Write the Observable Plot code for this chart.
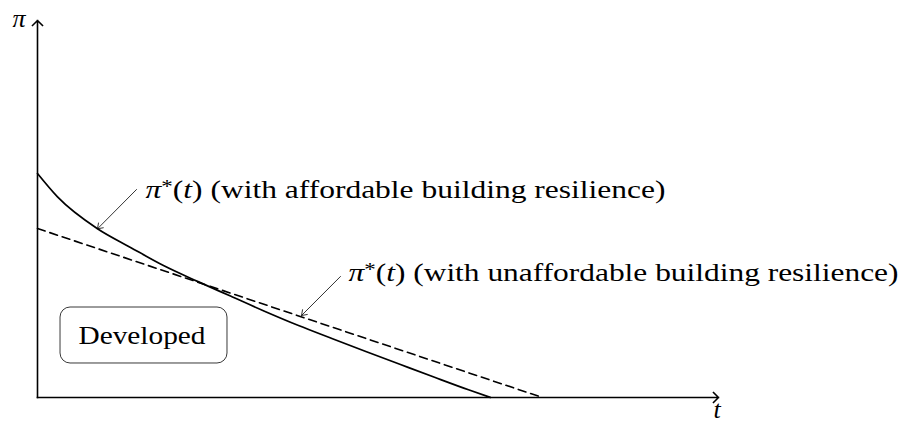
<!DOCTYPE html>
<html>
<head>
<meta charset="utf-8">
<script src="https://cdn.jsdelivr.net/npm/d3@7"></script>
<script src="https://cdn.jsdelivr.net/npm/@observablehq/plot@0.6"></script>
<style>
  html, body { margin: 0; padding: 0; background: #fff; }
  svg { display: block; }
  svg text { font-family: "Liberation Serif", "Times New Roman", serif; }
</style>
</head>
<body>
<div id="chart"></div>
<script>
// π*(t) with affordable building resilience (solid, convex)
const solidT  = [0, 0.294, 0.881, 1.366, 1.850, 2.349, 2.834, 3.333, 3.833, 4.332, 4.831, 5.330, 5.830, 6.329, 6.652];
const solidPi = [5.94, 5.32, 4.475, 3.98, 3.50, 3.08, 2.69, 2.29, 1.91, 1.56, 1.215, 0.875, 0.536, 0.204, 0];

// π*(t) with unaffordable building resilience (dashed, straight)
const dashedT  = [0, 7.415];
const dashedPi = [4.483, 0];

// annotation texts
const labelTexts = ["π*(t) (with affordable building resilience)", "π*(t) (with unaffordable building resilience)"];
const labelT  = [1.586, 4.567];
const labelPi = [5.305, 3.077];
// annotation arrows: from label to curve
const arrowFromT  = [1.454, 4.449];
const arrowFromPi = [5.517, 3.210];
const arrowToT    = [0.881, 3.877];
const arrowToPi   = [4.475, 2.175];

// region box
const regionName = "Developed";
const regionBox = {t1: 0.338, t2: 2.790, p1: 0.902, p2: 2.387};
const regionLabelT = 1.534, regionLabelPi = 1.432;

// axis names
const axisNames = ["π", "t"];
const axisNameT = [-0.272, 9.98];
const axisNamePi = [9.84, -0.54];

const solid = solidT.map((t, i) => ({t, p: solidPi[i]}));
const dashed = dashedT.map((t, i) => ({t, p: dashedPi[i]}));
const labels = labelTexts.map((s, i) => ({s, t: labelT[i], p: labelPi[i]}));
const ann = arrowFromT.map((t, i) => ({t1: t, p1: arrowFromPi[i], t2: arrowToT[i], p2: arrowToPi[i]}));
const axes = [{t1: 0, p1: 0, t2: 10, p2: 0}, {t1: 0, p1: 0, t2: 0, p2: 10}];
const names = axisNames.map((s, i) => ({s, t: axisNameT[i], p: axisNamePi[i]}));

const FONT = "'Liberation Serif', 'Times New Roman', serif";

const svg = Plot.plot({
  width: 907,
  height: 424,
  marginLeft: 37,
  marginRight: 189,
  marginTop: 20,
  marginBottom: 27,
  style: {fontFamily: FONT, background: "#fff", color: "#000"},
  x: {domain: [0, 10], axis: null},
  y: {domain: [0, 10], axis: null},
  marks: [
    Plot.arrow(axes, {x1: "t1", y1: "p1", x2: "t2", y2: "p2", stroke: "#000", strokeWidth: 1.6, headLength: 6.6, headAngle: 90, strokeLinecap: "square"}),
    Plot.line(dashed, {x: "t", y: "p", stroke: "#000", strokeWidth: 1.6, strokeDasharray: "8,5"}),
    Plot.line(solid, {x: "t", y: "p", stroke: "#000", strokeWidth: 1.7, curve: "monotone-x"}),
    Plot.arrow(ann, {x1: "t1", y1: "p1", x2: "t2", y2: "p2", stroke: "#000", strokeWidth: 0.8, headLength: 11, headAngle: 70}),
    Plot.rect([regionBox], {x1: "t1", x2: "t2", y1: "p1", y2: "p2", rx: 10, fill: "#fff", stroke: "#222", strokeWidth: 0.9}),
    Plot.text([regionName], {x: () => regionLabelT, y: () => regionLabelPi, text: d => d, fontSize: 26, fontFamily: FONT, textAnchor: "middle", lineAnchor: "bottom", fill: "#000"}),
    Plot.text(labels, {x: "t", y: "p", text: "s", fontSize: 26, fontFamily: FONT, textAnchor: "start", lineAnchor: "bottom", fill: "#000"}),
    Plot.text(names, {x: "t", y: "p", text: "s", fontSize: 26, fontFamily: FONT, fontStyle: "italic", textAnchor: "middle", lineAnchor: "bottom", fill: "#000"})
  ]
});

// the reference typesetting is wider than Liberation Serif; stretch to the measured widths
const widths = new Map([[labelTexts[0], 520], [labelTexts[1], 550], [regionName, 127]]);
d3.select(svg).selectAll("text").each(function () {
  const s = this.textContent;
  const w = widths.get(s);
  if (!w) return;
  if (s.startsWith("π*(t)")) {
    // typeset the math part: italic π, raised asterisk, italic t
    const rest = s.slice(5);
    const el = d3.select(this);
    el.text(null);
    el.append("tspan").attr("font-style", "italic").text("π");
    el.append("tspan").attr("font-size", 19).attr("dy", -5).text("*");
    el.append("tspan").attr("dy", 5).text("(");
    el.append("tspan").attr("font-style", "italic").text("t");
    el.append("tspan").text(")" + rest);
  }
  this.setAttribute("textLength", w);
  this.setAttribute("lengthAdjust", "spacingAndGlyphs");
});

document.getElementById("chart").append(svg);
</script>
</body>
</html>
